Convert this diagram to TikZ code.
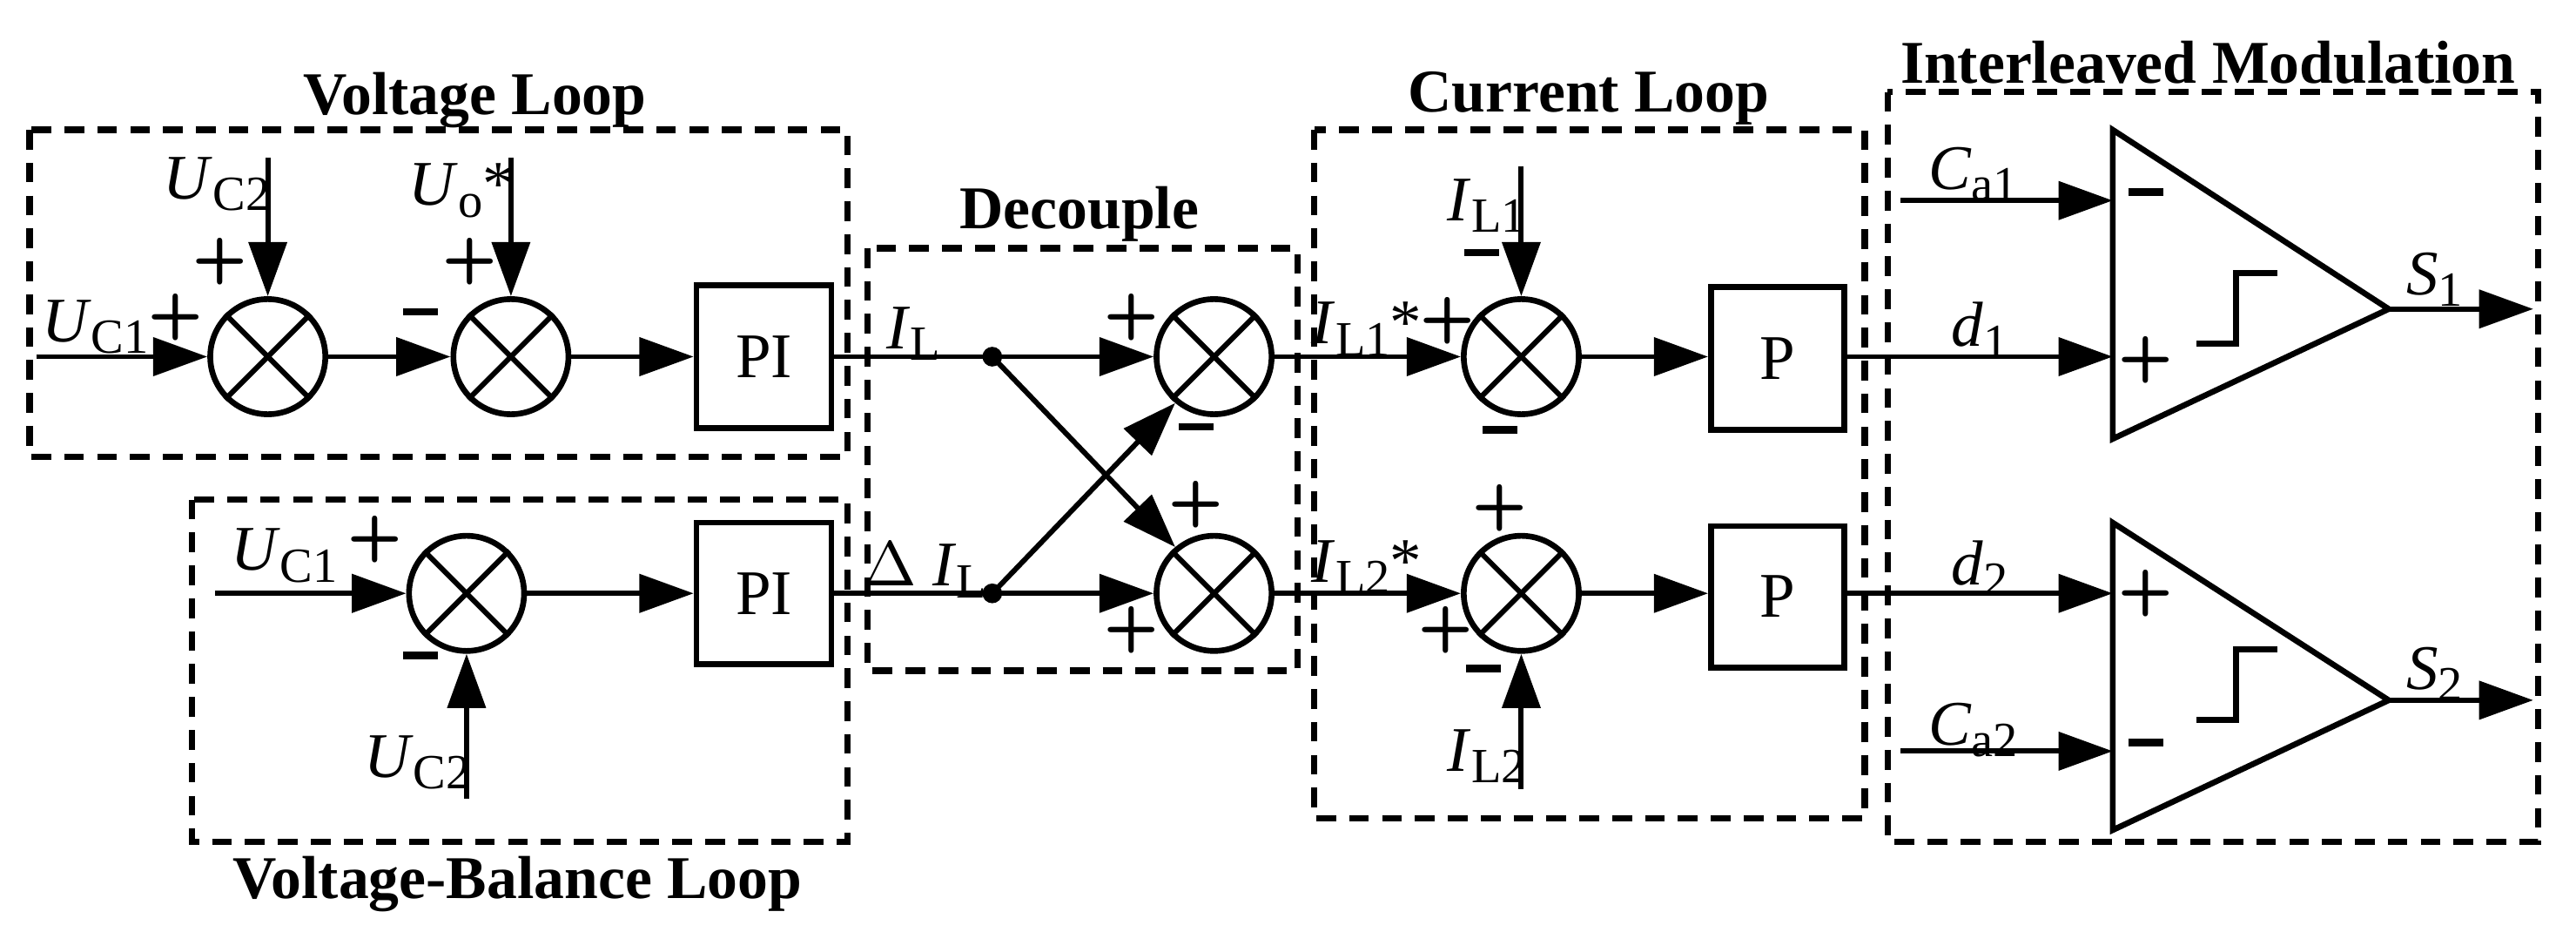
\documentclass[tikz,border=0pt]{standalone}
\usepackage{fontspec}
\setmainfont{Liberation Serif}
\usetikzlibrary{arrows.meta}
\newcommand{\lbl}[2]{\textit{#1}\raisebox{-0.4ex}{\fontsize{8.5}{9}\selectfont #2}}
\tikzset{
  sumnode/.style={circle, draw, line width=1pt, minimum size=0.7cm, inner sep=0pt},
  blk/.style={rectangle, draw, line width=1pt, inner sep=0pt},
  sig/.style={line width=0.9pt, -{Triangle[length=3.3mm, width=2.3mm]}},
  wire/.style={line width=0.9pt},
  grp/.style={dashed, line width=1.1pt, dash pattern=on 1.2mm off 0.8mm},
  ttl/.style={font=\fontsize{10.5}{12}\selectfont\bfseries},
  pm/.style={font=\fontsize{11}{11}\selectfont\sffamily\bfseries, inner sep=0pt},
  txt/.style={font=\fontsize{11}{12}\selectfont, inner sep=0pt}
}
\begin{document}
\begin{tikzpicture}[x=0.01cm, y=-0.01cm]
\useasboundingbox (0,0) rectangle (1568,567);
% group frames
\draw[grp] (18,79) rectangle (516,278);
\draw[grp] (117,304) rectangle (516,512);
\draw[grp] (528,151) rectangle (790,408);
\draw[grp] (800,79) rectangle (1135,498);
\draw[grp] (1149,56) rectangle (1545,512);
\node[ttl] at (289,61) {Voltage Loop};
\node[ttl] at (315,538) {Voltage-Balance Loop};
\node[ttl] at (657,130) {Decouple};
\node[ttl] at (967,60) {Current Loop};
\node[ttl] at (1344,38) {Interleaved Modulation};
% summing junctions
\foreach \n/\x/\y in {sA/163/217, sB/311/217, sC/284/361, dA/739/217, dB/739/361, cA/926/217, cB/926/361}{
  \node[sumnode] (\n) at (\x,\y) {};
  \draw[wire] (\n.45) -- (\n.225) (\n.135) -- (\n.315);
}
% blocks
\node[blk, minimum width=0.82cm, minimum height=0.87cm, txt] (pi1) at (465,217) {PI};
\node[blk, minimum width=0.82cm, minimum height=0.86cm, txt] (pi2) at (465,361) {PI};
\node[blk, minimum width=0.81cm, minimum height=0.87cm, txt] (p1) at (1082,218) {P};
\node[blk, minimum width=0.81cm, minimum height=0.86cm, txt] (p2) at (1082,363) {P};
% free ends
\coordinate (uc1a) at (22,217);
\coordinate (uc2a) at (163,96);
\coordinate (uo) at (311,96);
\coordinate (uc1b) at (131,361);
\coordinate (uc2b) at (284,486);
\coordinate (jA) at (604,217);
\coordinate (jB) at (604,361);
\coordinate (il1) at (926,101);
\coordinate (il2) at (926,480);
\coordinate (ca1) at (1157,122);
\coordinate (ca2) at (1157,457);
% voltage loops
\draw[sig] (uc1a) -- (sA);
\draw[sig] (uc2a) -- (sA);
\draw[sig] (sA) -- (sB);
\draw[sig] (uo) -- (sB);
\draw[sig] (sB) -- (pi1);
\draw[sig] (uc1b) -- (sC);
\draw[sig] (uc2b) -- (sC);
\draw[sig] (sC) -- (pi2);
% decouple
\draw[wire] (pi1) -- (jA);
\draw[wire] (pi2) -- (jB);
\fill (jA) circle (6);
\fill (jB) circle (6);
\draw[sig] (jA) -- (dA);
\draw[sig] (jB) -- (dB);
\draw[sig] (jA) -- (dB.130);
\draw[sig] (jB) -- (dA.230);
% current loop
\draw[sig] (dA) -- (cA);
\draw[sig] (dB) -- (cB);
\draw[sig] (il1) -- (cA);
\draw[sig] (il2) -- (cB);
\draw[sig] (cA) -- (p1.west |- cA);
\draw[sig] (cB) -- (p2.west |- cB);
% comparators
\draw[line width=1pt] (1286,79) -- (1454,188) -- (1286,267) -- cycle;
\draw[line width=1pt] (1286,318) -- (1454,426) -- (1286,505) -- cycle;
\draw[line width=1pt] (1337,209) -- (1361,209) -- (1361,166) -- (1386,166);
\draw[line width=1pt] (1337,438) -- (1361,438) -- (1361,395) -- (1386,395);
\coordinate (m1) at (1286,217);
\coordinate (m2) at (1286,361);
\coordinate (n1) at (1286,122);
\coordinate (n2) at (1286,457);
\draw[sig] (ca1) -- (n1);
\draw[sig] (p1.east |- m1) -- (m1);
\draw[sig] (p2.east |- m2) -- (m2);
\draw[sig] (ca2) -- (n2);
\coordinate (o1) at (1454,188);
\coordinate (o2) at (1454,426);
\draw[sig] (o1) -- (1542,188);
\draw[sig] (o2) -- (1542,426);
% signs
\foreach \x/\y in {107/193, 134/159, 286/159, 228/328, 689/193, 728/307, 689/383, 881/195, 913/309, 880/383, 1306/219, 1306/361}
  \node[pm] at (\x,\y) {+};
\foreach \x/\y in {256/195, 256/404, 728/265, 902/159, 913/267, 903/412, 1306/122, 1306/457}
  \node[pm] at (\x,\y) {\rule[0.6ex]{0.55em}{0.12em}};
% labels
\node[txt] at (58,199) {\lbl{U}{C1}};
\node[txt] at (132,112) {\lbl{U}{C2}};
\node[txt] at (281,116) {\lbl{U}{o}*};
\node[txt] at (173,338) {\lbl{U}{C1}};
\node[txt] at (254,464) {\lbl{U}{C2}};
\node[txt] at (556,203) {\lbl{I}{L}};
\node[txt] at (563,347) {$\Delta$ \lbl{I}{L}};
\node[txt] at (832,200) {\lbl{I}{L1}*};
\node[txt] at (832,345) {\lbl{I}{L2}*};
\node[txt] at (905,125) {\lbl{I}{L1}};
\node[txt] at (905,460) {\lbl{I}{L2}};
\node[txt] at (1201,106) {\lbl{C}{a1}};
\node[txt] at (1205,201) {\lbl{d}{1}};
\node[txt] at (1205,346) {\lbl{d}{2}};
\node[txt] at (1201,444) {\lbl{C}{a2}};
\node[txt] at (1482,170) {\lbl{S}{1}};
\node[txt] at (1482,410) {\lbl{S}{2}};
\end{tikzpicture}
\end{document}
